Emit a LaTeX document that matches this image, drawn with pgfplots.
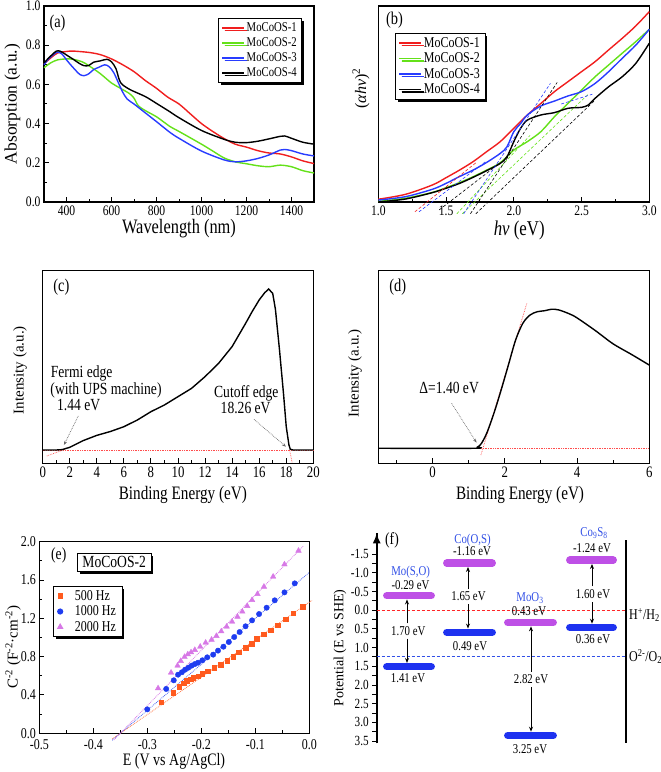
\documentclass[border=0pt]{standalone}
\usepackage{fontspec}
\setmainfont{Liberation Serif}[FakeStretch=0.8]
\newfontfamily\ylfont{Liberation Serif}
\usepackage{pgfplots}
\pgfplotsset{compat=1.18}
\usetikzlibrary{shadows,arrows.meta}
\definecolor{mred}{RGB}{240,30,30}
\definecolor{mgreen}{RGB}{100,225,25}
\definecolor{mblue}{RGB}{40,60,255}
\definecolor{eorange}{RGB}{255,90,30}
\definecolor{eblue}{RGB}{30,60,240}
\definecolor{eviolet}{RGB}{215,120,230}
\definecolor{cbcol}{RGB}{190,80,230}
\definecolor{vbcol}{RGB}{30,50,240}
\definecolor{lblue}{RGB}{50,80,230}
\newcommand\fs[1]{\fontsize{#1}{#1}\selectfont}
\newcommand\st{\rule[-2pt]{0pt}{11.5pt}}
\pgfplotsset{
 panel/.style={
  scale only axis, anchor=south west,
  axis line style={line width=1.2pt},
  tick align=inside, tick pos=left,
  major tick length=5pt, minor tick length=3pt,
  every tick/.append style={line width=1pt, black},
  /pgf/number format/assume math mode=true,
  /pgf/number format/set thousands separator={},
  clip=false,
 },
 shadowlegend/.style={legend style={draw=black, line width=0.7pt, fill=white,
   drop shadow={shadow xshift=2.5pt, shadow yshift=-2.5pt, fill=black, opacity=1},
   inner xsep=3pt, inner ysep=2pt, legend cell align=left}},
 linelegend/.style={legend image code/.code={\draw[##1] (0pt,0pt) -- (22pt,0pt);}},
 marklegend/.style={legend image code/.code={\draw[##1] plot coordinates {(8pt,0pt)};}},
}
\begin{document}
\begin{tikzpicture}
\useasboundingbox (0,0) rectangle (661pt,772pt);
% ---------------- (a)
\begin{axis}[panel, at={(44pt,570pt)}, width=270pt, height=196pt,
  xmin=300, xmax=1500, ymin=0, ymax=1,
  xtick={400,600,800,1000,1200,1400}, minor x tick num=1,
  ytick={0,0.2,0.4,0.6,0.8,1.0}, minor y tick num=1,
  yticklabel style={/pgf/number format/.cd, fixed, fixed zerofill, precision=1},
  tick label style={font=\fs{14.5}},
  xlabel={Wavelength (nm)}, xlabel style={font=\fs{20.5}, at={(axis description cs:0.5,-0.135)}, anchor=center},
  ylabel={Absorption (a.u.)}, ylabel style={font=\ylfont\fs{17.5}, at={(axis description cs:-0.117,0.5)}, anchor=center},
  shadowlegend, linelegend,
  legend style={at={(axis description cs:0.956,0.939)}, anchor=north east, font=\fs{13.4}},
  every axis plot/.append style={line width=1.4pt}]
\addplot[mred, smooth] coordinates {(300,0.705)(330,0.735)(360,0.76)(400,0.768)(430,0.77)(500,0.763)(550,0.752)(600,0.73)(650,0.70)(700,0.665)(750,0.62)(800,0.58)(850,0.535)(900,0.50)(950,0.45)(1000,0.40)(1050,0.36)(1100,0.324)(1150,0.295)(1200,0.28)(1250,0.262)(1300,0.25)(1350,0.245)(1400,0.23)(1450,0.21)(1500,0.196)};
\addplot[mgreen, smooth] coordinates {(300,0.685)(330,0.71)(360,0.725)(400,0.73)(430,0.728)(470,0.715)(500,0.695)(550,0.655)(600,0.607)(640,0.58)(680,0.553)(700,0.53)(720,0.49)(760,0.46)(800,0.435)(860,0.385)(900,0.36)(1000,0.295)(1050,0.26)(1100,0.225)(1150,0.205)(1200,0.195)(1250,0.185)(1300,0.18)(1350,0.188)(1400,0.18)(1450,0.16)(1500,0.148)};
\addplot[mblue, smooth] coordinates {(300,0.70)(320,0.73)(345,0.755)(360,0.765)(380,0.755)(400,0.725)(430,0.685)(460,0.65)(480,0.645)(500,0.655)(520,0.675)(545,0.688)(570,0.70)(590,0.69)(610,0.66)(630,0.61)(650,0.56)(670,0.525)(700,0.50)(750,0.455)(800,0.41)(860,0.355)(900,0.325)(1000,0.26)(1100,0.215)(1150,0.205)(1200,0.21)(1250,0.222)(1300,0.24)(1350,0.265)(1370,0.268)(1400,0.262)(1450,0.245)(1500,0.235)};
\addplot[black, smooth] coordinates {(300,0.71)(330,0.745)(355,0.77)(375,0.768)(400,0.75)(430,0.728)(460,0.705)(480,0.695)(500,0.697)(520,0.713)(550,0.72)(580,0.728)(600,0.715)(620,0.68)(640,0.61)(680,0.575)(750,0.538)(800,0.503)(860,0.46)(900,0.43)(1000,0.365)(1100,0.32)(1150,0.305)(1200,0.303)(1250,0.31)(1300,0.322)(1350,0.335)(1370,0.337)(1400,0.325)(1450,0.305)(1500,0.295)};
\legend{\st MoCoOS-1,\st MoCoOS-2,\st MoCoOS-3,\st MoCoOS-4}
\node[font=\fs{18}] at (axis cs:360,0.913) {(a)};
\end{axis}
% ---------------- (b)
\begin{axis}[panel, at={(378.3pt,570pt)}, width=271pt, height=196pt,
  xmin=1, xmax=3, ymin=0, ymax=1,
  xtick={1,1.5,2,2.5,3}, minor x tick num=1, ytick=\empty,
  xticklabel style={/pgf/number format/.cd, fixed, fixed zerofill, precision=1},
  tick label style={font=\fs{14.5}},
  xlabel={\textit{hν} (eV)}, xlabel style={font=\fs{21}, at={(axis description cs:0.52,-0.143)}, anchor=center},
  ylabel={(\textit{αhν})\textsuperscript{2}}, ylabel style={font=\ylfont\fs{16}, at={(axis description cs:-0.064,0.58)}, anchor=center},
  shadowlegend, linelegend,
  legend style={at={(axis description cs:0.062,0.862)}, anchor=north west, font=\fs{15}},
  every axis plot/.append style={line width=1.4pt}]
\addplot[mred, smooth] coordinates {(1.0,0.014)(1.2,0.039)(1.4,0.087)(1.5,0.124)(1.6,0.163)(1.7,0.206)(1.8,0.257)(1.9,0.308)(2.0,0.376)(2.1,0.444)(2.2,0.503)(2.3,0.563)(2.4,0.614)(2.5,0.665)(2.6,0.716)(2.7,0.776)(2.8,0.835)(2.9,0.898)(3.0,0.971)};
\addplot[mgreen, smooth] coordinates {(1.0,0.003)(1.2,0.019)(1.4,0.049)(1.5,0.073)(1.6,0.099)(1.7,0.129)(1.8,0.163)(1.9,0.20)(2.0,0.265)(2.1,0.308)(2.2,0.359)(2.3,0.435)(2.4,0.503)(2.5,0.571)(2.6,0.639)(2.7,0.699)(2.8,0.759)(2.9,0.818)(3.0,0.881)};
\addplot[mblue, smooth] coordinates {(1.0,0.01)(1.2,0.027)(1.4,0.065)(1.5,0.095)(1.6,0.13)(1.7,0.163)(1.8,0.202)(1.9,0.248)(1.95,0.282)(2.0,0.359)(2.05,0.40)(2.1,0.444)(2.2,0.49)(2.3,0.515)(2.4,0.541)(2.5,0.563)(2.6,0.605)(2.7,0.665)(2.8,0.733)(2.9,0.80)(3.0,0.881)};
\addplot[black, smooth] coordinates {(1.0,0.0)(1.2,0.015)(1.4,0.048)(1.5,0.07)(1.6,0.095)(1.7,0.126)(1.8,0.16)(1.9,0.197)(1.95,0.231)(2.0,0.308)(2.05,0.376)(2.1,0.418)(2.2,0.444)(2.3,0.456)(2.4,0.478)(2.5,0.483)(2.55,0.495)(2.6,0.529)(2.7,0.588)(2.8,0.639)(2.9,0.707)(3.0,0.81)};
\legend{\st MoCoOS-1,\st MoCoOS-2,\st MoCoOS-3,\st MoCoOS-4}
\addplot[mred, densely dashed, line width=0.6pt, forget plot] coordinates {(1.27,-0.05)(1.72,0.20)};
\addplot[mblue, densely dashed, line width=0.6pt, forget plot] coordinates {(1.30,-0.05)(1.80,0.21)};
\addplot[black, densely dashed, line width=0.6pt, forget plot] coordinates {(1.45,-0.04)(1.90,0.20)};
\addplot[mgreen, densely dashed, line width=0.6pt, forget plot] coordinates {(1.58,-0.06)(2.12,0.34)};
\addplot[mgreen, densely dashed, line width=0.6pt, forget plot] coordinates {(1.62,-0.06)(2.55,0.55)};
\addplot[mblue, densely dashed, line width=0.6pt, forget plot] coordinates {(1.63,-0.06)(2.27,0.605)};
\addplot[black, densely dashed, line width=0.6pt, forget plot] coordinates {(1.68,-0.06)(2.32,0.61)};
\addplot[black, densely dashed, line width=0.6pt, forget plot] coordinates {(1.72,-0.06)(2.60,0.52)};
\addplot[mblue, densely dashed, line width=0.6pt, forget plot] coordinates {(2.35,0.50)(2.58,0.55)};
\node[font=\fs{18}] at (axis cs:1.12,0.93) {(b)};
\end{axis}
% ---------------- (c)
\begin{axis}[panel, at={(42.7pt,308.7pt)}, width=270.6pt, height=192.6pt,
  xmin=0, xmax=20, ymin=0, ymax=1,
  xtick={0,2,...,20}, minor x tick num=1, ytick=\empty,
  tick label style={font=\fs{16}},
  xlabel={Binding Energy (eV)}, xlabel style={font=\fs{19}, at={(axis description cs:0.518,-0.165)}, anchor=center},
  ylabel={Intensity (a.u.)}, ylabel style={font=\ylfont\fs{15}, at={(axis description cs:-0.084,0.484)}, anchor=center}]
\addplot[red!70, densely dotted, line width=0.7pt] coordinates {(0,0.069)(20,0.069)};
\addplot[red!70, densely dotted, line width=0.7pt] coordinates {(0.3,0.038)(1.7,0.074)};
\addplot[red!70, densely dotted, line width=0.7pt] coordinates {(18.25,0.069)(18.45,0)};
\addplot[black, line width=1.4pt] coordinates {(0,0.069)(1.0,0.069)(1.44,0.071)(2,0.083)(3,0.118)(4,0.145)(5,0.165)(6,0.19)(7,0.225)(8,0.268)(9,0.303)(10,0.346)(11,0.389)(12,0.45)(13,0.519)(14,0.606)(15,0.727)(15.5,0.79)(16,0.848)(16.4,0.885)(16.7,0.905)(17.0,0.882)(17.2,0.80)(17.5,0.59)(17.8,0.36)(18.0,0.19)(18.2,0.095)(18.3,0.073)(18.5,0.069)(20,0.069)};
\draw[densely dotted, gray!80!black, line width=0.7pt, -{Stealth[length=4pt,width=3pt]}] (axis cs:2.63,0.246) -- (axis cs:1.57,0.095);
\draw[densely dotted, gray!80!black, line width=0.7pt, -{Stealth[length=4pt,width=3pt]}] (axis cs:15.62,0.228) -- (axis cs:17.98,0.086);
\node[font=\fs{17}] at (axis cs:2.88,0.467) {Fermi edge};
\node[font=\fs{17}] at (axis cs:4.68,0.381) {(with UPS machine)};
\node[font=\fs{17}] at (axis cs:2.66,0.303) {1.44 eV};
\node[font=\fs{17}] at (axis cs:15.05,0.363) {Cutoff edge};
\node[font=\fs{17}] at (axis cs:15.0,0.286) {18.26 eV};
\node[font=\fs{18}] at (axis cs:1.38,0.917) {(c)};
\end{axis}
% ---------------- (d)
\begin{axis}[panel, at={(378.3pt,308.7pt)}, width=271pt, height=192.6pt,
  xmin=-1.5, xmax=6, ymin=0, ymax=1,
  xtick={0,2,4,6}, minor xtick={-1,1,3,5}, ytick=\empty,
  tick label style={font=\fs{16}},
  xlabel={Binding Energy (eV)}, xlabel style={font=\fs{19}, at={(axis description cs:0.523,-0.165)}, anchor=center},
  ylabel={Intensity (a.u.)}, ylabel style={font=\ylfont\fs{15}, at={(axis description cs:-0.086,0.467)}, anchor=center}]
\addplot[red!70, densely dotted, line width=0.7pt] coordinates {(1.35,0.078)(6,0.078)};
\addplot[red!70, densely dotted, line width=0.7pt] coordinates {(1.34,0.043)(2.61,0.83)};
\addplot[black, line width=1.4pt, smooth] coordinates {(-1.5,0.078)(1.15,0.078)(1.25,0.085)(1.35,0.102)(1.5,0.156)(1.7,0.26)(1.9,0.381)(2.1,0.51)(2.3,0.64)(2.5,0.727)(2.7,0.77)(2.9,0.787)(3.1,0.792)(3.3,0.80)(3.5,0.796)(3.8,0.775)(4.0,0.755)(4.5,0.69)(5.0,0.62)(5.5,0.566)(6.0,0.51)};
\draw[densely dotted, gray!80!black, line width=0.7pt, -{Stealth[length=4pt,width=3pt]}] (axis cs:0.53,0.311) -- (axis cs:1.22,0.107);
\node[font=\fs{17}] at (axis cs:0.46,0.389) {Δ=1.40 eV};
\node[font=\fs{18}] at (axis cs:-0.96,0.917) {(d)};
\end{axis}
% ---------------- (e)
\begin{axis}[panel, at={(39.3pt,38.7pt)}, width=270pt, height=191.6pt,
  xmin=-0.5, xmax=0, ymin=0, ymax=2,
  xtick={-0.5,-0.4,-0.3,-0.2,-0.1,0}, minor x tick num=1,
  ytick={0,0.4,0.8,1.2,1.6,2.0}, minor y tick num=1,
  xticklabel style={yshift=-3pt, /pgf/number format/.cd, fixed, fixed zerofill, precision=1},
  yticklabel style={/pgf/number format/.cd, fixed, fixed zerofill, precision=1},
  tick label style={font=\fs{15}},
  xlabel={E (V vs Ag/AgCl)}, xlabel style={font=\fs{17.5}, at={(axis description cs:0.499,-0.145)}, anchor=center},
  ylabel={C\textsuperscript{-2} (F\textsuperscript{-2}·cm\textsuperscript{-2})}, ylabel style={font=\ylfont\fs{15}, at={(axis description cs:-0.097,0.45)}, anchor=center},
  shadowlegend, marklegend,
  legend style={at={(axis description cs:0.051,0.769)}, anchor=north west, font=\fs{15}, inner xsep=4pt,
    /tikz/every odd column/.append style={column sep=10pt}}]
\addplot[only marks, mark=square*, mark size=2.3pt, color=eorange] coordinates {(-0.274,0.323)(-0.252,0.424)(-0.241,0.487)(-0.233,0.525)(-0.227,0.546)(-0.220,0.563)(-0.215,0.581)(-0.206,0.598)(-0.198,0.619)(-0.188,0.647)(-0.176,0.685)(-0.164,0.713)(-0.152,0.755)(-0.141,0.80)(-0.131,0.845)(-0.118,0.894)(-0.107,0.936)(-0.097,0.988)(-0.084,1.033)(-0.072,1.078)(-0.058,1.130)(-0.044,1.19)(-0.030,1.252)(-0.012,1.322)};
\addplot[only marks, mark=*, mark size=2.7pt, color=eblue] coordinates {(-0.300,0.25)(-0.265,0.463)(-0.251,0.553)(-0.243,0.612)(-0.236,0.637)(-0.230,0.664)(-0.224,0.685)(-0.218,0.706)(-0.212,0.723)(-0.206,0.737)(-0.198,0.762)(-0.189,0.793)(-0.178,0.821)(-0.169,0.863)(-0.159,0.904)(-0.149,0.953)(-0.139,1.005)(-0.129,1.057)(-0.118,1.117)(-0.106,1.179)(-0.093,1.245)(-0.079,1.311)(-0.064,1.388)(-0.046,1.471)(-0.027,1.565)};
\addplot[only marks, mark=triangle*, mark size=3.2pt, color=eviolet] coordinates {(-0.280,0.47)(-0.256,0.633)(-0.244,0.706)(-0.238,0.755)(-0.231,0.797)(-0.225,0.824)(-0.219,0.845)(-0.212,0.87)(-0.202,0.904)(-0.192,0.946)(-0.181,0.977)(-0.172,1.016)(-0.163,1.064)(-0.153,1.113)(-0.143,1.165)(-0.133,1.217)(-0.124,1.27)(-0.115,1.329)(-0.106,1.391)(-0.096,1.454)(-0.084,1.530)(-0.067,1.635)(-0.046,1.763)(-0.020,1.906)};
\legend{\st 500 Hz,\st 1000 Hz,\st 2000 Hz}
\addplot[eorange!80, densely dotted, line width=0.8pt, forget plot] coordinates {(-0.365,-0.059)(0.005,1.388)};
\addplot[eblue!80, densely dotted, line width=0.8pt, forget plot] coordinates {(-0.365,-0.072)(0,1.68)};
\addplot[eviolet, densely dotted, line width=0.8pt, forget plot] coordinates {(-0.362,-0.069)(-0.011,1.955)};
\node[font=\fs{17}] at (axis cs:-0.464,1.861) {(e)};
\node[font=\fs{17}, draw=black, line width=0.7pt, fill=white, anchor=west, inner xsep=5pt, inner ysep=3pt,
  drop shadow={shadow xshift=2.5pt, shadow yshift=-2.5pt, fill=black, opacity=1}] at (axis cs:-0.430,1.785) {MoCoOS-2};
\end{axis}
% ---------------- (f)
\begin{axis}[scale only axis, anchor=south west, at={(376.7pt,28.7pt)}, width=284.3pt, height=210pt,
  xmin=376.7, xmax=661, ymin=-2.06, ymax=3.56, y dir=reverse,
  axis x line=none, axis y line=left,
  y axis line style={line width=1.6pt, -},
  ytick={-1.5,-1,-0.5,0,0.5,1,1.5,2,2.5,3,3.5}, minor y tick num=1,
  tick align=outside, major tick length=4.5pt, minor tick length=4.5pt,
  every tick/.append style={line width=1pt, black},
  /pgf/number format/assume math mode=true,
  yticklabel style={font=\fs{14}, /pgf/number format/.cd, fixed, fixed zerofill, precision=1},
  ylabel={Potential (E vs SHE)}, ylabel style={font=\ylfont\fs{14}, at={(axis description cs:-0.129,0.454)}, anchor=center},
  clip=false]
\draw[line width=1.6pt, -{Latex[length=10pt,width=8pt]}] (axis cs:376.7,3.56) -- (axis cs:376.7,-2.06);
\addplot[red!85, densely dashed, line width=0.8pt] coordinates {(376.7,0)(626,0)};
\addplot[lblue, densely dashed, line width=0.8pt] coordinates {(376.7,1.23)(626,1.23)};
\addplot[black, line width=1.8pt] coordinates {(626,-1.88)(626,3.56)};
% conduction band (bottom edge at CB value) and valence band (top edge at VB value)
\addplot[cbcol, line width=7.5pt, line cap=round] coordinates {(386.8,-0.39)(431.2,-0.39)};
\addplot[vbcol, line width=7.5pt, line cap=round] coordinates {(386.8,1.51)(431.2,1.51)};
\addplot[cbcol, line width=7.5pt, line cap=round] coordinates {(446.8,-1.26)(492.2,-1.26)};
\addplot[vbcol, line width=7.5pt, line cap=round] coordinates {(446.8,0.59)(492.2,0.59)};
\addplot[cbcol, line width=7.5pt, line cap=round] coordinates {(507.8,0.33)(553.2,0.33)};
\addplot[vbcol, line width=7.5pt, line cap=round] coordinates {(507.8,3.35)(553.2,3.35)};
\addplot[cbcol, line width=7.5pt, line cap=round] coordinates {(569.8,-1.34)(613.2,-1.34)};
\addplot[vbcol, line width=7.5pt, line cap=round] coordinates {(569.8,0.46)(613.2,0.46)};
% gap arrows
\addplot[black, line width=0.9pt, -{Stealth[length=5pt,width=4pt]}] coordinates {(407,0.35)(407,-0.29)};
\addplot[black, line width=0.9pt, -{Stealth[length=5pt,width=4pt]}] coordinates {(407,0.76)(407,1.41)};
\addplot[black, line width=0.9pt, -{Stealth[length=5pt,width=4pt]}] coordinates {(468,-0.56)(468,-1.16)};
\addplot[black, line width=0.9pt, -{Stealth[length=5pt,width=4pt]}] coordinates {(468,-0.16)(468,0.49)};
\addplot[black, line width=0.9pt, -{Stealth[length=5pt,width=4pt]}] coordinates {(531,1.65)(531,0.43)};
\addplot[black, line width=0.9pt, -{Stealth[length=5pt,width=4pt]}] coordinates {(531,2.05)(531,3.25)};
\addplot[black, line width=0.9pt, -{Stealth[length=5pt,width=4pt]}] coordinates {(592,-0.64)(592,-1.24)};
\addplot[black, line width=0.9pt, -{Stealth[length=5pt,width=4pt]}] coordinates {(592,-0.22)(592,0.36)};
\node[font=\fs{17}] at (axis cs:392,-1.87) {(f)};
\node[font=\fs{13.5}, text=lblue] at (axis cs:410.7,-1.01) {Mo(S,O)};
\node[font=\fs{13.5}] at (axis cs:410.5,-0.68) {-0.29 eV};
\node[font=\fs{13.5}] at (axis cs:408.3,0.571) {1.70 eV};
\node[font=\fs{13.5}] at (axis cs:408,1.82) {1.41 eV};
\node[font=\fs{13.5}, text=lblue] at (axis cs:472.5,-1.87) {Co(O,S)};
\node[font=\fs{13.5}] at (axis cs:472,-1.571) {-1.16 eV};
\node[font=\fs{13.5}] at (axis cs:468.5,-0.366) {1.65 eV};
\node[font=\fs{13.5}] at (axis cs:470,0.955) {0.49 eV};
\node[font=\fs{13.5}, text=lblue] at (axis cs:530,-0.32) {MoO\textsubscript{3}};
\node[font=\fs{13.5}] at (axis cs:529,0.018) {0.43 eV};
\node[font=\fs{13.5}] at (axis cs:531,1.85) {2.82 eV};
\node[font=\fs{13.5}] at (axis cs:530,3.71) {3.25 eV};
\node[font=\fs{13.5}, text=lblue, inner ysep=1pt] at (axis cs:594,-2.06) {Co\textsubscript{9}S\textsubscript{8}};
\node[font=\fs{13.5}, inner ysep=1pt] at (axis cs:592,-1.66) {-1.24 eV};
\node[font=\fs{13.5}] at (axis cs:593,-0.43) {1.60 eV};
\node[font=\fs{13.5}] at (axis cs:593,0.777) {0.36 eV};
\node[font=\fs{15}, anchor=west, inner xsep=1pt] at (axis cs:628,0.125) {H\textsuperscript{+}/H\textsubscript{2}};
\node[font=\fs{15}, anchor=west, inner xsep=1pt] at (axis cs:628,1.24) {O\textsuperscript{2-}/O\textsubscript{2}};
\end{axis}
\end{tikzpicture}
\end{document}
